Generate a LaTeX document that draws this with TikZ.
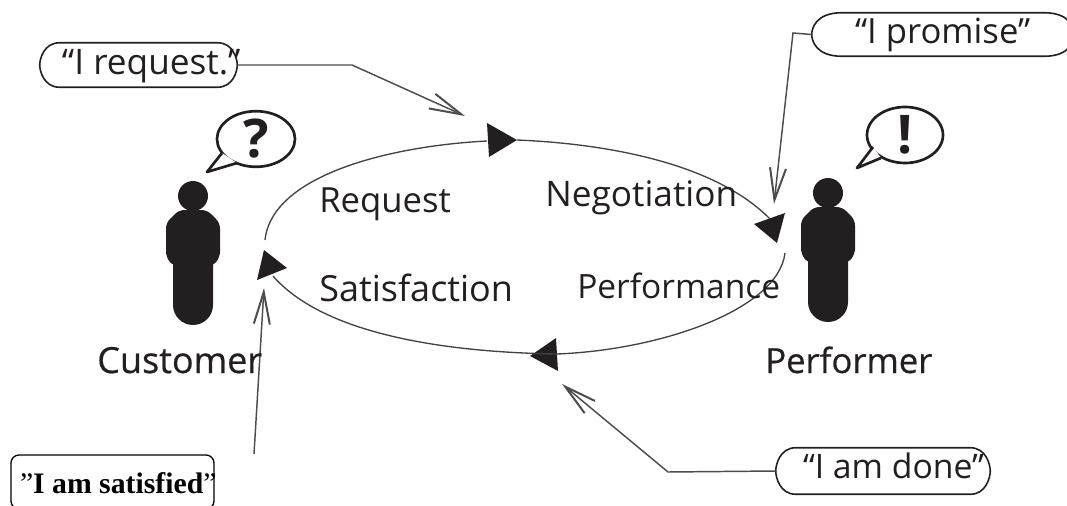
\documentclass[tikz,border=0pt]{standalone}
\usepackage{fontspec}
\setmainfont{Open Sans}
\newfontfamily\serifbold{Liberation Serif}[BoldFont={Liberation Serif Bold}]
\newfontfamily\sembold{Open Sans}[BoldFont={Open Sans},BoldFeatures={FakeBold=0.5}]
\usetikzlibrary{arrows.meta,shapes.geometric}
\newlength{\px}\setlength{\px}{0.75pt}
\definecolor{ink}{HTML}{231F20}
\newcommand{\captext}[4]{\makebox[#1\px][l]{\hspace*{#2\px}\raisebox{#3\px}[0pt][0pt]{#4}}}
% outline of a caption with long, flat ends: node name, end length
\newcommand{\capoutline}[2]{%
  \draw[capline] ([xshift=#2\px]#1.north west) -- ([xshift=-#2\px]#1.north east)
    .. controls ([xshift=-4\px]#1.north east) and ([yshift=6\px]#1.east) .. (#1.east)
    .. controls ([yshift=-6\px]#1.east) and ([xshift=-4\px]#1.south east) .. ([xshift=-#2\px]#1.south east)
    -- ([xshift=#2\px]#1.south west)
    .. controls ([xshift=4\px]#1.south west) and ([yshift=-6\px]#1.west) .. (#1.west)
    .. controls ([yshift=6\px]#1.west) and ([xshift=4\px]#1.north west) .. ([xshift=#2\px]#1.north west) -- cycle;}
\tikzset{
  x=0.75pt,y=-0.75pt,
  capsule/.style={inner sep=0pt,text=ink},
  capline/.style={draw=ink,line width=1.2pt},
  lab/.style={anchor=base west,inner sep=0pt,text=ink},
  arc/.style={draw=ink!85,line width=1pt},
  lead/.style={draw=ink!80,line width=1.1pt,-{Straight Barb[length=24pt,width=12pt,line width=1.5pt]}},
  bubble/.style={ellipse,draw=ink,line width=2pt,inner sep=0pt,text=ink,font=\fontsize{40}{40}\bfseries\selectfont},
  person/.pic={
    \fill[ink] (0,-67) circle (15);
    \fill[ink,rounded corners=4pt] (-27,-6) -- (-27,-40) -- (-14,-53) -- (14,-53) -- (27,-40) -- (27,-6) -- (20,3) -- (-20,3) -- cycle;
    \fill[ink] (-20,-4) -- (20,-4) -- (20,42) arc[start angle=0,end angle=180,radius=20] -- cycle;
  }
}
\begin{document}
\begin{tikzpicture}
\useasboundingbox (0,0) rectangle (1067,506);
% people
\pic at (193,263) {person};
\pic at (828,260) {person};
% speech bubbles
\node[bubble,minimum width=78\px,minimum height=54\px] (ask) at (256,139) {?};
\coordinate (askTip) at (207,172);
\fill[white] (222,153) -- (askTip) -- (237,163) -- cycle;
\draw[ink,line width=2pt,line join=round] (222,153) -- (askTip) -- (237,163);
\node[bubble,minimum width=76\px,minimum height=56\px] (excl) at (905,135) {!};
\coordinate (exclTip) at (857,168);
\fill[white] (873,147) -- (exclTip) -- (881,158) -- cycle;
\draw[ink,line width=2pt,line join=round] (873,147) -- (exclTip) -- (881,158);
% cycle
\coordinate (t1) at (517,140);
\coordinate (t2) at (777,243);
\coordinate (t3) at (530,356);
\coordinate (t4) at (257,280);
\fill[ink] (487,123) -- (t1) -- (489,157) -- cycle;
\fill[ink] (754,224) -- (785,213) -- (t2) -- cycle;
\fill[ink] (t3) -- (556,338) -- (558,371) -- cycle;
\fill[ink] (t4) -- (264,250) -- (287,268) -- cycle;
\draw[arc] (265,240) .. controls (272,175) and (390,146) .. (487,141);
\draw[arc] (t1) .. controls (590,143) and (710,158) .. (770,219);
\draw[arc] (785,253) .. controls (778,310) and (660,350) .. (557,354);
\draw[arc] (557,354) .. controls (430,352) and (320,330) .. (273,276);
% captions
\node[capsule,minimum width=197\px,minimum height=44\px,font=\fontsize{26.4}{26.4}\selectfont] (req) at (138.5,65) {\captext{197}{22}{-10}{“I request.”}};
\capoutline{req}{20}
\node[capsule,minimum width=262\px,minimum height=43\px,font=\fontsize{26}{26}\selectfont] (prom) at (943,34.5) {\captext{262}{43}{-9}{“I promise”}};
\capoutline{prom}{30}
\node[capsule,minimum width=214\px,minimum height=46\px,font=\fontsize{25.3}{25.3}\selectfont] (done) at (883,471) {\captext{214}{27}{-7}{“I am done”}};
\capoutline{done}{20}
\node[draw=black,line width=1pt,rounded corners=6pt,inner sep=0pt,minimum width=203\px,minimum height=54\px,font=\serifbold\fontsize{22.3}{22.3}\selectfont] (sat) at (112.5,482) {\captext{203}{9}{-11}{”\textbf{I am satisfied}”}};
% leaders
\coordinate (reqBend) at (352,65);
\coordinate (reqTip) at (465,116);
\coordinate (promBend) at (793,33);
\coordinate (promTip) at (774,204);
\coordinate (doneBend) at (668,472);
\coordinate (doneTip) at (562,384);
\coordinate (satStart) at (254,454);
\coordinate (satTip) at (264,288);
\draw[lead] (req.east) -- (reqBend) -- (reqTip);
\draw[lead] (prom.west) -- (promBend) -- (promTip);
\draw[lead] (done.west) -- (doneBend) -- (doneTip);
\draw[lead] (satStart) -- (satTip);
% labels
\node[lab,font=\fontsize{26}{26}\selectfont] (lreq) at (319,212) {Request};
\node[lab,font=\fontsize{26.4}{26.4}\selectfont] (lneg) at (545,206) {Negotiation};
\node[lab,font=\fontsize{27}{27}\selectfont] (lsat) at (319,301) {Satisfaction};
\node[lab,font=\fontsize{25.1}{25.1}\selectfont] (lperf) at (577,298) {Performance};
\node[lab,font=\sembold\fontsize{27}{27}\selectfont] (lcust) at (97,373) {\bfseries Customer};
\node[lab,font=\sembold\fontsize{26}{26}\selectfont] (lperfr) at (765,373) {\bfseries Performer};
\end{tikzpicture}
\end{document}
